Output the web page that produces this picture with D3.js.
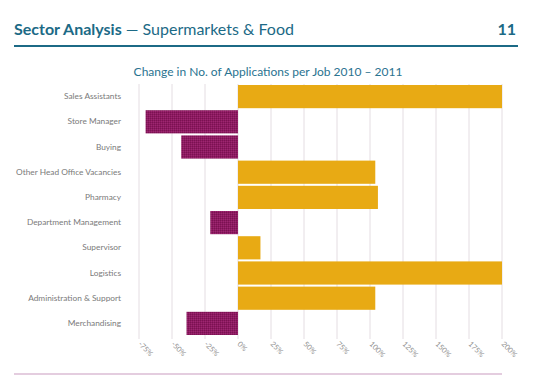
<!DOCTYPE html>
<html>
<head>
<meta charset="utf-8">
<script src="https://cdn.jsdelivr.net/npm/d3@7"></script>
<style>
  body { margin: 0; background: #fff; }
  text { font-family: Lato, "Open Sans", sans-serif; }
</style>
</head>
<body>
<div id="chart"></div>
<script>
// data
const categories = ["Sales Assistants", "Store Manager", "Buying", "Other Head Office Vacancies",
  "Pharmacy", "Department Management", "Supervisor", "Logistics", "Administration & Support", "Merchandising"]
const changes = [200, -70, -43, 104, 106, -21, 17, 200, 104, -39]
const ticks = [-75, -50, -25, 0, 25, 50, 75, 100, 125, 150, 175, 200]

const width = 540, height = 375

const svg = d3.select("#chart").append("svg")
  .attr("width", width)
  .attr("height", height)

// hatched purple fill
const defs = svg.append("defs")
const pat = defs.append("pattern")
  .attr("id", "hatch")
  .attr("width", 2).attr("height", 2)
  .attr("patternUnits", "userSpaceOnUse")
pat.append("rect").attr("width", 2).attr("height", 2).attr("fill", "#8d1a60")
pat.append("rect").attr("width", 1).attr("height", 1).attr("fill", "#7a1252")
pat.append("rect").attr("x", 1).attr("y", 1).attr("width", 1).attr("height", 1).attr("fill", "#9c2771")

// header
const header = svg.append("text")
  .attr("x", 14)
  .attr("y", 35)
  .attr("fill", "#1c6a86")
  .style("font-size", "16px")
header.append("tspan").text("Sector Analysis").style("font-weight", "bold")
header.append("tspan").text(" \u2014 Supermarkets & Food").style("font-weight", "normal")

svg.append("text")
  .attr("x", 516)
  .attr("y", 35)
  .attr("text-anchor", "end")
  .attr("fill", "#1c6a86")
  .style("font-size", "16px")
  .style("font-weight", "bold")
  .text("11")

svg.append("line")
  .attr("x1", 14).attr("x2", 518)
  .attr("y1", 46).attr("y2", 46)
  .style("stroke", "#1c6a86")
  .style("stroke-width", 2)

// chart title
svg.append("text")
  .attr("x", 268)
  .attr("y", 76)
  .attr("text-anchor", "middle")
  .attr("fill", "#2a7390")
  .style("font-size", "12px")
  .text("Change in No. of Applications per Job 2010 \u2013 2011")

// scales
const x = d3.scaleLinear().domain([-75, 200]).range([139, 502])
const y = d3.scaleBand().domain(categories).range([84, 336]).paddingInner(0.08).paddingOuter(0.04)

// gridlines
svg.append("g")
  .selectAll("line")
  .data(ticks)
  .enter().append("line")
  .attr("x1", d => x(d)).attr("x2", d => x(d))
  .attr("y1", 84).attr("y2", 339)
  .style("stroke", "#e4dde2")
  .style("stroke-width", 1)

// bars
svg.append("g")
  .selectAll("rect")
  .data(categories)
  .enter().append("rect")
  .attr("x", (d, i) => x(Math.min(0, changes[i])))
  .attr("y", d => y(d))
  .attr("width", (d, i) => Math.abs(x(changes[i]) - x(0)))
  .attr("height", y.bandwidth())
  .attr("fill", (d, i) => changes[i] < 0 ? "url(#hatch)" : "#e8aa14")

// category labels
const yAxis = d3.axisLeft(y).tickSize(0).tickPadding(0)
const yg = svg.append("g")
  .attr("transform", "translate(121,0)")
  .call(yAxis)
yg.select(".domain").remove()
yg.selectAll("text")
  .attr("fill", "#7a7a7a")
  .style("font-size", "8.3px")
  .style("font-family", "Lato, sans-serif")

// x tick labels, rotated
const xAxis = d3.axisBottom(x).tickValues(ticks).tickSize(0).tickFormat(d => d + "%")
const xg = svg.append("g")
  .attr("transform", "translate(0,343)")
  .call(xAxis)
xg.select(".domain").remove()
xg.selectAll("text")
  .attr("fill", "#8f8f8f")
  .style("font-size", "7.3px")
  .style("font-family", "Lato, sans-serif")
  .attr("text-anchor", "start")
  .attr("dy", "0.3em")
  .attr("transform", "rotate(45)")
  .attr("x", 0).attr("y", 0)

// bottom rule
svg.append("line")
  .attr("x1", 14).attr("x2", 502)
  .attr("y1", 374).attr("y2", 374)
  .style("stroke", "#c99bbf")
  .style("stroke-width", 1.2)
</script>
</body>
</html>
